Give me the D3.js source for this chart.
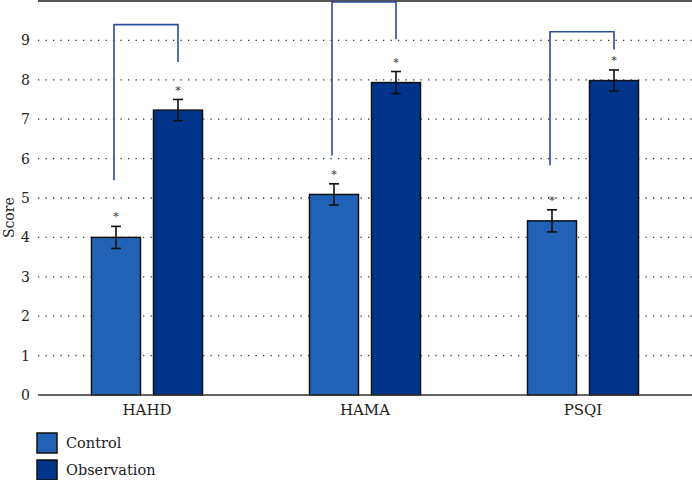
<!DOCTYPE html>
<html>
<head>
<meta charset="utf-8">
<script src="https://cdn.jsdelivr.net/npm/d3@7/dist/d3.min.js"></script>
<style>
  html, body { margin: 0; padding: 0; background: #fff; }
  svg { display: block; }
  text { font-family: "DejaVu Serif", "Liberation Serif", serif; fill: #222; }
</style>
</head>
<body>
<svg id="chart" width="692" height="480"></svg>
<script>
// ---- data ----
const categories = ["HAHD", "HAMA", "PSQI"];
const seriesNames = ["Control", "Observation"];
const controlValues = [4.0, 5.09, 4.42];
const controlErrors = [0.28, 0.27, 0.28];
const observationValues = [7.23, 7.93, 7.98];
const observationErrors = [0.27, 0.28, 0.27];
const yTicks = [0, 1, 2, 3, 4, 5, 6, 7, 8, 9];
// brackets: [left-leg bottom, top, right-leg bottom] in score units
const bracketLeft = [5.45, 6.08, 5.83];
const bracketTop = [9.4, 10, 9.22];
const bracketRight = [8.45, 9.03, 8.77];
const yLabel = "Score";

const colors = ["#2262b6", "#00338a"];

// ---- layout ----
const W = 692, H = 480;
const m = { left: 38, right: 0, top: 1, bottom: 85 };
const svg = d3.select("#chart");
const FONT = "DejaVu Serif, Liberation Serif, serif";

const x0 = d3.scaleBand().domain(categories).range([m.left, W - m.right]).paddingInner(0).paddingOuter(0);
const x1 = d3.scaleBand().domain(seriesNames).range([-55.5, 55.5]).paddingInner(0.21).paddingOuter(0);
const y = d3.scaleLinear().domain([0, 10]).range([H - m.bottom, m.top]);

// grid lines (dotted)
svg.append("g").selectAll("line").data(yTicks.filter(d => d > 0)).join("line")
  .attr("x1", m.left).attr("x2", W - m.right)
  .attr("y1", d => y(d)).attr("y2", d => y(d))
  .attr("stroke", "#333").attr("stroke-width", 1.3)
  .attr("stroke-dasharray", "1.3,6.2");

// top border
svg.append("line").attr("x1", m.left).attr("x2", W).attr("y1", y(10)).attr("y2", y(10))
  .attr("stroke", "#555").attr("stroke-width", 2);

// y axis tick labels
const yAxis = d3.axisLeft(y).tickValues(yTicks).tickSize(0).tickPadding(8).tickFormat(d3.format("d"));
const gy = svg.append("g").attr("transform", `translate(${m.left},0)`).call(yAxis);
gy.select(".domain").remove();
gy.attr("font-family", FONT);
gy.selectAll("text").attr("font-size", 14).attr("fill", "#222");

// y label
svg.append("text").attr("transform", `translate(14,${y(4.5)}) rotate(-90)`)
  .attr("text-anchor", "middle").attr("font-size", 14).text(yLabel);

// bars
const rows = categories.map((c, i) => ({
  cat: c,
  items: [
    { s: seriesNames[0], v: controlValues[i], e: controlErrors[i], col: colors[0] },
    { s: seriesNames[1], v: observationValues[i], e: observationErrors[i], col: colors[1] }
  ]
}));

const groups = svg.append("g").selectAll("g").data(rows).join("g")
  .attr("transform", d => `translate(${x0(d.cat) + x0.bandwidth() / 2},0)`);

groups.selectAll("rect").data(d => d.items).join("rect")
  .attr("x", d => x1(d.s)).attr("width", x1.bandwidth())
  .attr("y", d => y(d.v)).attr("height", d => y(0) - y(d.v))
  .attr("fill", d => d.col).attr("stroke", "#111").attr("stroke-width", 1.5);

// error bars
const eb = groups.selectAll("g.err").data(d => d.items).join("g").attr("class", "err")
  .attr("transform", d => `translate(${x1(d.s) + x1.bandwidth() / 2},0)`);
eb.append("line").attr("x1", 0).attr("x2", 0)
  .attr("y1", d => y(d.v + d.e)).attr("y2", d => y(d.v - d.e))
  .attr("stroke", "#111").attr("stroke-width", 1.6);
eb.append("line").attr("x1", -5).attr("x2", 5)
  .attr("y1", d => y(d.v + d.e)).attr("y2", d => y(d.v + d.e))
  .attr("stroke", "#111").attr("stroke-width", 1.6);
eb.append("line").attr("x1", -5).attr("x2", 5)
  .attr("y1", d => y(d.v - d.e)).attr("y2", d => y(d.v - d.e))
  .attr("stroke", "#111").attr("stroke-width", 1.6);
eb.append("text").attr("x", 0).attr("y", d => y(d.v + d.e) - 6)
  .attr("text-anchor", "middle").attr("font-size", 11).style("fill", "#333").text("*");

// brackets
const bdata = categories.map((c, i) => ({ cat: c, l: bracketLeft[i], t: bracketTop[i], r: bracketRight[i] }));
svg.append("g").selectAll("path").data(bdata).join("path")
  .attr("d", d => {
    const cx = x0(d.cat) + x0.bandwidth() / 2;
    const xl = cx + x1(seriesNames[0]) + x1.bandwidth() / 2 - 2;
    const xr = cx + x1(seriesNames[1]) + x1.bandwidth() / 2;
    return `M${xl},${y(d.l)}V${y(d.t) + (d.t >= 10 ? 1 : 0)}H${xr}V${y(d.r)}`;
  })
  .attr("fill", "none").attr("stroke", "#2a4d9e").attr("stroke-width", 1.6);

// x axis baseline
svg.append("line").attr("x1", m.left).attr("x2", W).attr("y1", y(0)).attr("y2", y(0))
  .attr("stroke", "#333").attr("stroke-width", 1.5);

// x category labels
const xAxis = d3.axisBottom(x0).tickSize(0).tickPadding(9);
const gx = svg.append("g").attr("transform", `translate(0,${y(0)})`).call(xAxis);
gx.select(".domain").remove();
gx.attr("font-family", FONT);
gx.selectAll("text").attr("font-size", 15).attr("fill", "#222");

// legend
const leg = svg.append("g").selectAll("g").data(seriesNames).join("g")
  .attr("transform", (d, i) => `translate(37,${433 + i * 27})`);
leg.append("rect").attr("width", 20).attr("height", 20)
  .attr("fill", (d, i) => colors[i]).attr("stroke", "#111").attr("stroke-width", 1.5);
leg.append("text").attr("x", 29).attr("y", 14.5).attr("font-size", 14.5).text(d => d);
</script>
</body>
</html>
